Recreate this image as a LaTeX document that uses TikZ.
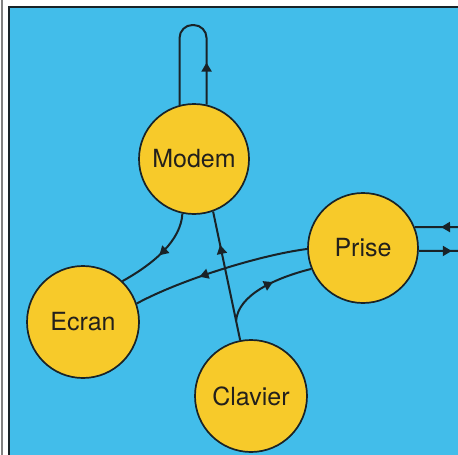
\documentclass[tikz,border=0pt]{standalone}
\usepackage{fontspec}
\setmainfont{TeX Gyre Heros}
\usetikzlibrary{arrows.meta,decorations.markings,calc}
\definecolor{bg}{RGB}{66,189,234}
\definecolor{ylw}{RGB}{247,202,42}
\definecolor{ink}{RGB}{25,35,40}
\tikzset{
  unit/.style={circle, draw=ink, line width=1.7pt, fill=ylw, minimum size=110pt, inner sep=0pt,
    font=\fontsize{25}{29}\selectfont, text={rgb,255:red,35;green,32;blue,28}},
  conn/.style={color=ink, line width=2pt},
  midarrow/.style={postaction={decorate, decoration={markings,
    mark=at position #1 with {\arrow{Triangle[length=9pt,width=10pt]}}}}},
}
\begin{document}
\begin{tikzpicture}[x=1pt,y=-1pt]
\useasboundingbox (0,0) rectangle (458,455);
\fill[white] (0,0) rectangle (458,455);
\draw[gray, line width=1.5pt] (2,0) -- (2,455);
\draw[fill=bg, draw=ink, line width=1.5pt] (9,7) rectangle (470,470);

\node[unit] (modem) at (194,159) {Modem};
\node[unit] (prise) at (363,248) {Prise};
\node[unit, minimum size=112pt] (ecran) at (83,322) {Ecran};
\node[unit, minimum size=112pt] (clavier) at (251,396) {Clavier};

\coordinate (loopTop) at (194,25);
\draw[conn, rounded corners=13pt, midarrow=42pt]
  (modem.77) -- (modem.77 |- loopTop) -- (modem.105 |- loopTop) -- (modem.105);

\draw[conn, midarrow=0.52] (modem.258) .. controls (181,240) and (155,263) .. (ecran.46);

\draw[conn, midarrow=0.74] (clavier.101) -- (modem.290);

\coordinate (br) at ($(clavier.101)!0.15!(modem.290)$);
\draw[conn, midarrow=0.58] (br) .. controls (238,295) and (275,278) .. (prise.202);

\draw[conn, midarrow=0.62] (prise.181) .. controls (260,255) and (180,280) .. (ecran.19);

\coordinate (outA) at (470,227);
\coordinate (outB) at (470,251);
\draw[conn, midarrow=29pt] (outA) -- (prise.22);
\draw[conn, midarrow=33pt] (prise.357) -- (outB);
\end{tikzpicture}
\end{document}
